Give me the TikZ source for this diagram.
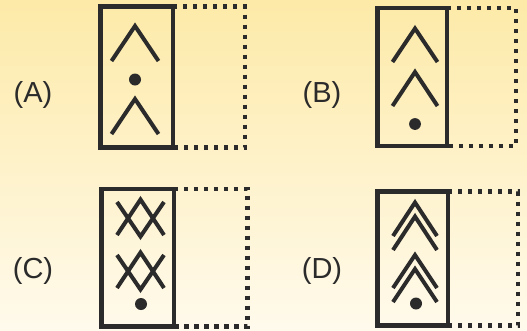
\documentclass[tikz,border=0pt]{standalone}
\usepackage{fontspec}
\setmainfont{Liberation Sans}
\definecolor{ink}{HTML}{2B2B2B}
\definecolor{bgtop}{HTML}{FDEAA8}
\definecolor{bgbot}{HTML}{FFFAEC}
\tikzset{
  solidbox/.style={draw=ink, line width=4.6pt},
  dotbox/.style={draw=ink, line width=4.6pt, dash pattern=on 4.2pt off 5.8pt},
  glyph/.style={draw=ink, line width=4pt, line cap=butt, line join=miter},
  blob/.style={fill=ink},
  lbl/.style={text=ink, font=\fontsize{29}{29}\selectfont, inner sep=0pt}
}
\begin{document}
\begin{tikzpicture}[x=1pt,y=-1pt]
\useasboundingbox (0,0) rectangle (527,330);
\shade[top color=bgtop, bottom color=bgbot] (0,0) rectangle (527,330);

% labels
\node[lbl] (la) at (33,95) {(A)};
\node[lbl] (lb) at (322,95) {(B)};
\node[lbl] (lc) at (33,271) {(C)};
\node[lbl] (ld) at (322,271) {(D)};

% Panel A
\draw[dotbox] (173,6.5) -- (245,6.5) -- (245,147.5) -- (173,147.5);
\draw[solidbox] (100.5,6.5) rectangle (173,147.5);
\draw[glyph] (111.5,61) -- (135,26) -- (158.5,61);
\fill[blob] (135,79.5) circle (6);
\draw[glyph] (111.5,134) -- (135,99) -- (158.5,134);

% Panel B
\draw[dotbox] (447,8) -- (516,8) -- (516,146) -- (447,146);
\draw[solidbox] (377.5,8) rectangle (447,146);
\draw[glyph] (392.5,62) -- (415,28.5) -- (437.5,62);
\draw[glyph] (392.5,106) -- (415,72) -- (437.5,106);
\fill[blob] (415,124) circle (5.9);

% Panel C
\draw[dotbox] (174,189) -- (247.5,189) -- (247.5,326.5) -- (174,326.5);
\draw[solidbox] (101.7,189) rectangle (174,326.5);
\draw[glyph] (117,202) -- (140.5,236.5) -- (164,202);
\draw[glyph] (117,235) -- (140.5,199.5) -- (164,235);
\draw[glyph] (117,255) -- (140.5,289.5) -- (164,255);
\draw[glyph] (117,288) -- (140.5,252.5) -- (164,288);
\fill[blob] (141,304) circle (6);

% Panel D
\draw[dotbox] (448,191.5) -- (518,191.5) -- (518,325.5) -- (448,325.5);
\draw[solidbox] (377.5,191.5) rectangle (448,325.5);
\draw[glyph] (393,236) -- (415,202.5) -- (437,236);
\draw[glyph] (393,250) -- (415,216.5) -- (437,250);
\draw[glyph] (393,288) -- (415,255) -- (437,288);
\draw[glyph] (393,302) -- (415,269) -- (437,302);
\fill[blob] (416,303.5) circle (6);
\end{tikzpicture}
\end{document}
